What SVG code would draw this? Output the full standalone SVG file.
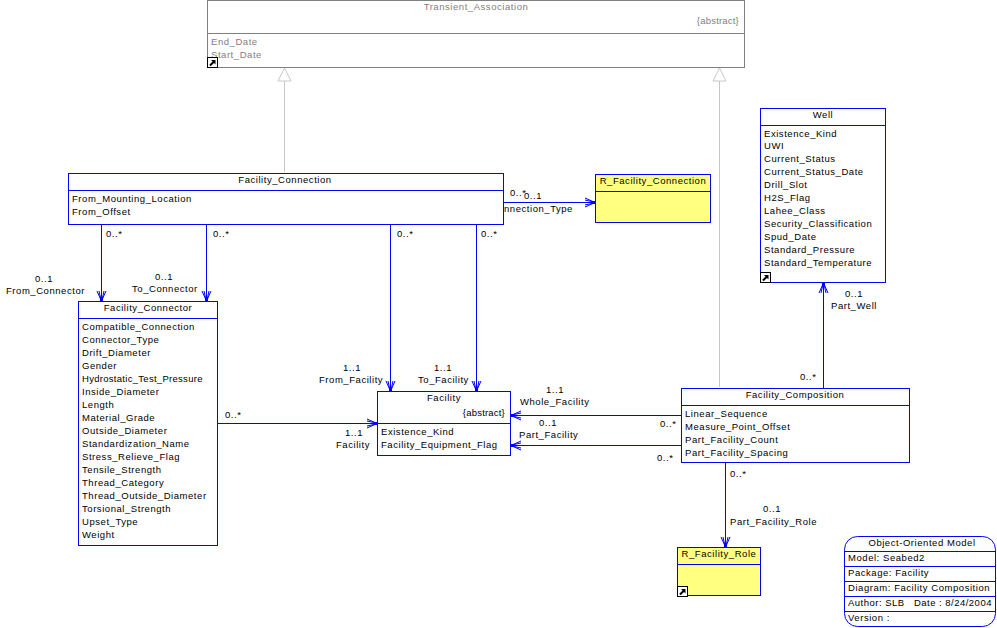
<svg xmlns="http://www.w3.org/2000/svg" width="997" height="628" viewBox="0 0 997 628">
<style>
text{font-family:"Liberation Sans",Arial,sans-serif;font-size:9.5px;letter-spacing:.55px;fill:#000;white-space:pre}
.m{text-anchor:middle}
.e{text-anchor:end}
.a{letter-spacing:.2px}
.box{fill:#fff;stroke:#0000ff;stroke-width:1}
.y{fill:#ffff80}
.d{fill:none;stroke:#0000ff;stroke-width:1}
.g{fill:none;stroke:#808080;stroke-width:1}
text.gt{fill:#808080}
.c{fill:none;stroke:#0000ff;stroke-width:1;marker-end:url(#arr)}
.i{fill:none;stroke:#c8c8c8;stroke-width:1;marker-end:url(#tri)}
</style>
<defs>
<marker id="arr" markerUnits="userSpaceOnUse" markerWidth="14" markerHeight="14" refX="12" refY="7" orient="auto">
<path d="M2 2.500L11 6.500M2 4.500L11 6.500M2 9.500L11 7.500M2 11.500L11 7.500" fill="none" stroke="#0000ff" stroke-width="1"/>
<rect x="9" y="5.500" width="3" height="3" fill="#0000ff"/>
</marker>
<marker id="tri" markerUnits="userSpaceOnUse" markerWidth="16" markerHeight="16" refX="14" refY="8" orient="auto">
<path d="M14 8L1 1.500V14.500Z" fill="#fff" stroke="#c8c8c8" stroke-width="1"/>
</marker>
<g id="link"><rect x=".5" y=".5" width="10" height="10" fill="#fff" stroke="#000"/><path d="M3 8.500L7 4.500" stroke="#000" stroke-width="2"/><path d="M4 3h4.500v4.500Z" fill="#000"/></g>
</defs>
<g id="connectors">
<path class="i" d="M284.500 172V68"/>
<path class="i" d="M719.500 387V68"/>
<path class="c" d="M504 202.500H595"/>
<path class="c" d="M101.500 225V301"/>
<path class="c" d="M206.500 225V301"/>
<path class="c" d="M390.500 225V391"/>
<path class="c" d="M476.500 225V391"/>
<path class="c" d="M218 423.500H377"/>
<path class="c" d="M681 415.500H511"/>
<path class="c" d="M681 445.500H511"/>
<path class="c" d="M823.500 388V283"/>
<path class="c" d="M725.500 463V547"/>
</g>
<g id="connector-labels">
<text x="510" y="196">0..*</text><text x="524" y="199">0..1</text><text x="504" y="212">nnection_Type</text>
<text x="106" y="237">0..*</text><text x="213" y="237">0..*</text><text x="397" y="237">0..*</text><text x="481" y="237">0..*</text>
<text x="35" y="282">0..1</text><text x="6" y="294">From_Connector</text>
<text x="155" y="280">0..1</text><text x="132" y="292">To_Connector</text>
<text x="343" y="371">1..1</text><text x="319" y="383">From_Facility</text>
<text x="434" y="371">1..1</text><text x="418" y="383">To_Facility</text>
<text x="225" y="418">0..*</text>
<text x="345" y="436">1..1</text><text x="336" y="448">Facility</text>
<text x="546" y="393">1..1</text><text x="520" y="405">Whole_Facility</text>
<text x="539" y="426">0..1</text><text x="519" y="438">Part_Facility</text>
<text x="660" y="427">0..*</text><text x="657" y="461">0..*</text>
<text x="800" y="380">0..*</text>
<text x="845" y="297">0..1</text><text x="831" y="309">Part_Well</text>
<text x="730" y="477">0..*</text>
<text x="763" y="512">0..1</text><text x="730" y="525">Part_Facility_Role</text>
</g>
<g id="transient-association">
<rect x="207.500" y=".5" width="537" height="67" fill="#fff" stroke="#808080"/>
<path class="g" d="M207.500 33.500H744.500"/>
<text class="m gt" x="476" y="10">Transient_Association</text>
<text class="e gt a" x="739" y="24">{abstract}</text>
<text class="gt" x="211" y="45">End_Date</text>
<text class="gt" x="211" y="58">Start_Date</text>
<use href="#link" x="207" y="57"/>
</g>
<g id="facility-connection">
<rect class="box" x="68.500" y="173.500" width="435" height="51"/>
<path class="d" d="M68.500 190.500H503.500"/>
<text class="m" x="285" y="183">Facility_Connection</text>
<text x="72" y="202">From_Mounting_Location</text>
<text x="72" y="215">From_Offset</text>
</g>
<g id="r-facility-connection">
<rect class="box y" x="595.500" y="174.500" width="115" height="48"/>
<path class="d" d="M595.500 191.500H710.500"/>
<text class="m" x="653" y="184">R_Facility_Connection</text>
</g>
<g id="well">
<rect class="box" x="760.500" y="108.500" width="125" height="174"/>
<path class="d" d="M760.500 125.500H885.500"/>
<text class="m" x="823" y="118">Well</text>
<text x="764" y="137">Existence_Kind</text>
<text x="764" y="149">UWI</text>
<text x="764" y="162">Current_Status</text>
<text x="764" y="175">Current_Status_Date</text>
<text x="764" y="188">Drill_Slot</text>
<text x="764" y="201">H2S_Flag</text>
<text x="764" y="214">Lahee_Class</text>
<text x="764" y="227">Security_Classification</text>
<text x="764" y="240">Spud_Date</text>
<text x="764" y="253">Standard_Pressure</text>
<text x="764" y="266">Standard_Temperature</text>
<use href="#link" x="760" y="272"/>
</g>
<g id="facility-connector">
<rect class="box" x="78.500" y="301.500" width="139" height="244"/>
<path class="d" d="M78.500 318.500H217.500"/>
<text class="m" x="148" y="311">Facility_Connector</text>
<text x="82" y="330">Compatible_Connection</text>
<text x="82" y="343">Connector_Type</text>
<text x="82" y="356">Drift_Diameter</text>
<text x="82" y="369">Gender</text>
<text x="82" y="382" textLength="121">Hydrostatic_Test_Pressure</text>
<text x="82" y="395">Inside_Diameter</text>
<text x="82" y="408">Length</text>
<text x="82" y="421">Material_Grade</text>
<text x="82" y="434">Outside_Diameter</text>
<text x="82" y="447">Standardization_Name</text>
<text x="82" y="460">Stress_Relieve_Flag</text>
<text x="82" y="473">Tensile_Strength</text>
<text x="82" y="486">Thread_Category</text>
<text x="82" y="499">Thread_Outside_Diameter</text>
<text x="82" y="512">Torsional_Strength</text>
<text x="82" y="525">Upset_Type</text>
<text x="82" y="538">Weight</text>
</g>
<g id="facility">
<rect class="box" x="377.500" y="391.500" width="133" height="64"/>
<path class="d" d="M377.500 423.500H510.500"/>
<text class="m" x="444" y="401">Facility</text>
<text class="e a" x="505" y="416">{abstract}</text>
<text x="381" y="435">Existence_Kind</text>
<text x="381" y="448">Facility_Equipment_Flag</text>
</g>
<g id="facility-composition">
<rect class="box" x="681.500" y="388.500" width="228" height="74"/>
<path class="d" d="M681.500 405.500H909.500"/>
<text class="m" x="795" y="398">Facility_Composition</text>
<text x="685" y="417">Linear_Sequence</text>
<text x="685" y="430">Measure_Point_Offset</text>
<text x="685" y="443">Part_Facility_Count</text>
<text x="685" y="456">Part_Facility_Spacing</text>
</g>
<g id="r-facility-role">
<rect class="box y" x="677.500" y="547.500" width="83" height="48"/>
<path class="d" d="M677.500 564.500H760.500"/>
<text class="m" x="719" y="557">R_Facility_Role</text>
<use href="#link" x="677" y="586"/>
</g>
<g id="model-info">
<rect class="box" x="844.500" y="536.500" width="151" height="90" rx="13" ry="13"/>
<path class="d" d="M844.500 551.500H995.500M844.500 566.500H995.500M844.500 581.500H995.500M844.500 596.500H995.500M844.500 611.500H995.500"/>
<text class="m" x="922" y="546">Object-Oriented Model</text>
<text x="848" y="561">Model: Seabed2</text>
<text x="848" y="576">Package: Facility</text>
<text x="848" y="591">Diagram: Facility Composition</text>
<text x="848" y="606" textLength="144">Author: SLB   Date : 8/24/2004</text>
<text x="848" y="621">Version :</text>
</g>
</svg>
